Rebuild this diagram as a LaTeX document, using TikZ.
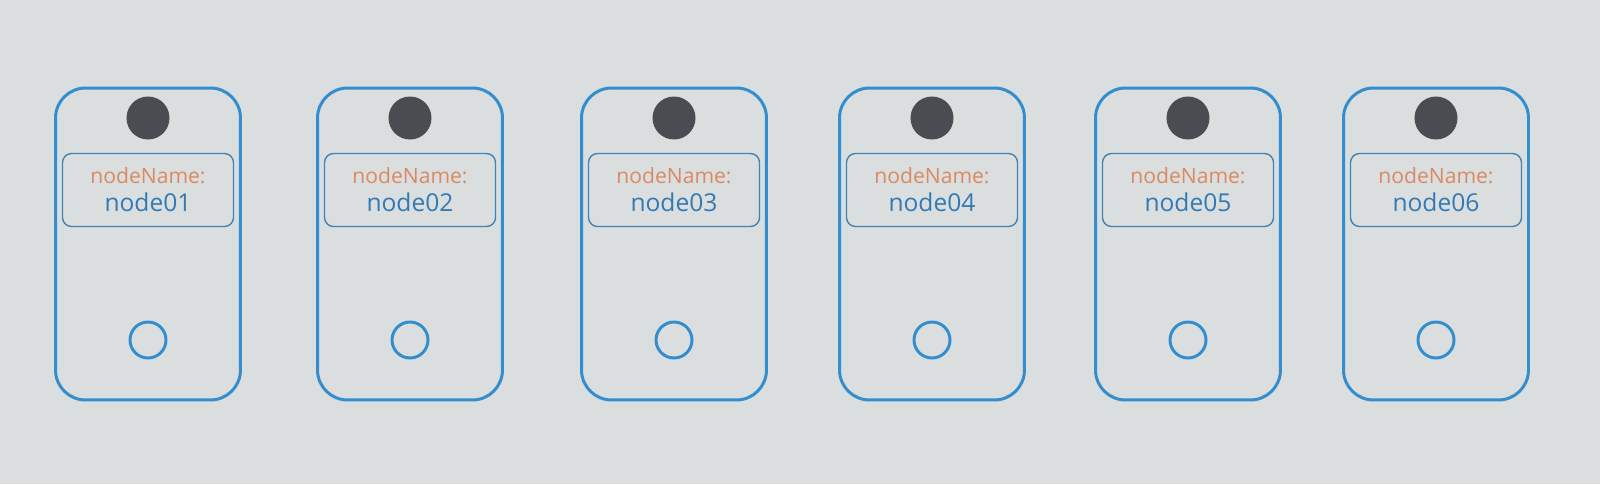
\documentclass[tikz,border=0pt]{standalone}
\usepackage{fontspec}
\setmainfont{Open Sans}
\usetikzlibrary{positioning}
\definecolor{screen}{RGB}{218,222,223}
\definecolor{cardblue}{RGB}{52,142,206}
\definecolor{boxblue}{RGB}{66,132,180}
\definecolor{nameorange}{RGB}{218,138,98}
\definecolor{valueblue}{RGB}{52,122,178}
\definecolor{camgray}{RGB}{74,76,82}

\begin{document}
\begin{tikzpicture}[x=0.02cm,y=-0.02cm]
\tikzstyle{card} = [
	shape=rectangle,
	draw=cardblue, %outer frame
	line width=1.7pt,
	rounded corners=0.6cm,
	minimum width=3.7cm,
	minimum height=6.24cm,
	inner sep=0pt
];
\tikzstyle{cam} = [
	shape=circle,
	fill=camgray, %top hole
	minimum size=0.86cm,
	inner sep=0pt
];
\tikzstyle{namebox} = [
	shape=rectangle,
	draw=boxblue,
	line width=0.8pt,
	rounded corners=0.18cm,
	minimum width=3.42cm,
	minimum height=1.46cm,
	align=center,
	inner sep=1pt
];
\tikzstyle{button} = [
	shape=circle,
	draw=cardblue,
	line width=1.7pt,
	minimum size=0.72cm,
	inner sep=0pt
];

%screen
\fill[screen] (0,0) rectangle (1600,484);
\useasboundingbox (0,0) rectangle (1600,484);

%cards
\foreach \x/\i in {148/01, 410/02, 674/03, 932/04, 1188/05, 1436/06} {
	\node[card](c\i) at (\x,244) {};
	\node[cam](h\i) at (\x,118) {};
	\node[namebox](n\i) at (\x,190) {%
		{\fontsize{12}{15}\selectfont\color{nameorange}nodeName:}\\[4pt]
		{\fontsize{14}{16}\selectfont\color{valueblue}node\i}};
	\node[button](b\i) at (\x,340) {};
}

\end{tikzpicture}
\end{document}
